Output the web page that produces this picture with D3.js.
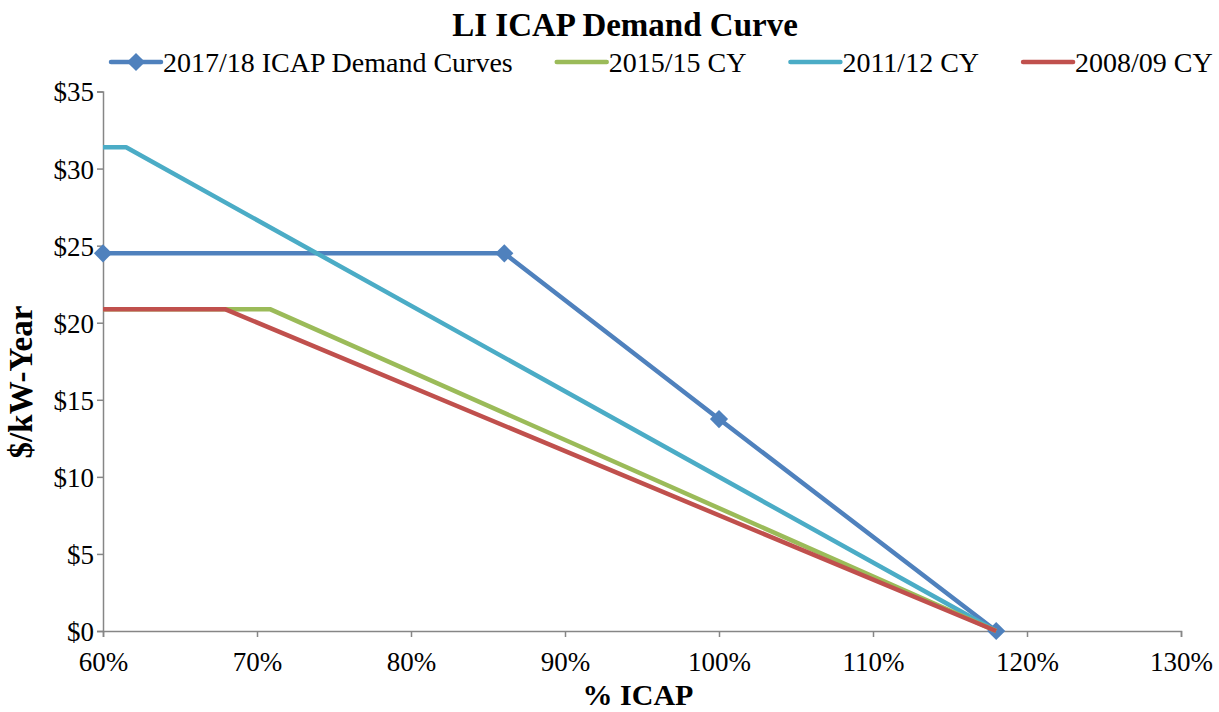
<!DOCTYPE html>
<html>
<head>
<meta charset="utf-8">
<script src="https://cdn.jsdelivr.net/npm/d3@7"></script>
<style>
  body { margin: 0; background: #fff; }
  text { font-family: "Liberation Serif", "Times New Roman", serif; fill: #000; }
</style>
</head>
<body>
<div id="chart"></div>
<script>
// series names, in legend order
var seriesNames = ["2017/18 ICAP Demand Curves", "2015/15 CY", "2011/12 CY", "2008/09 CY"];
var seriesColors = ["#4F81BD", "#9BBB59", "#4BACC6", "#C0504D"];

// % ICAP (x) and $/kW-Year (y) for each curve
var icap1718 = [60, 86.06, 100, 118];
var price1718 = [24.5, 24.5, 13.75, 0];

var icap1515 = [60, 70.84, 118];
var price1515 = [20.88, 20.88, 0];

var icap1112 = [60, 61.5, 118];
var price1112 = [31.38, 31.38, 0];

var icap0809 = [60, 67.92, 118];
var price0809 = [20.88, 20.88, 0];

var xTicks = [60, 70, 80, 90, 100, 110, 120, 130];
var yTicks = [0, 5, 10, 15, 20, 25, 30, 35];

var W = 1219, H = 712;
var margin = { top: 91.5, right: 38, bottom: 81, left: 103 };
var width = W - margin.left - margin.right,
    height = H - margin.top - margin.bottom;

var svg = d3.select("#chart")
    .append("svg")
    .attr("width", W)
    .attr("height", H);

var x = d3.scaleLinear().domain([60, 130]).range([0, width]);
var y = d3.scaleLinear().domain([0, 35]).range([height, 0]);

var g = svg.append("g")
    .attr("transform", "translate(" + margin.left + "," + margin.top + ")");

// axes
var axisColor = "#868686";
var xAxis = g.append("g")
    .attr("transform", "translate(0," + height + ")")
    .call(d3.axisBottom(x).tickValues(xTicks).tickSize(6).tickPadding(15)
        .tickFormat(function (d) { return d + "%"; }));
var yAxis = g.append("g")
    .call(d3.axisLeft(y).tickValues(yTicks).tickSize(6).tickPadding(3)
        .tickFormat(function (d) { return "$" + d; }));

[xAxis, yAxis].forEach(function (a) {
    a.attr("font-family", null).attr("font-size", null);
    a.select(".domain").attr("stroke", axisColor).attr("stroke-width", 1.5);
    a.selectAll(".tick line").attr("stroke", axisColor).attr("stroke-width", 1.5);
    a.selectAll(".tick text")
        .style("font-family", "'Liberation Serif', 'Times New Roman', serif")
        .style("font-size", "27px")
        .attr("fill", "#000");
});
yAxis.selectAll(".tick text").attr("dy", "0.35em");

// lines
var line = d3.line()
    .x(function (d) { return x(d[0]); })
    .y(function (d) { return y(d[1]); });

var series = [
    { name: seriesNames[0], color: seriesColors[0], pts: d3.zip(icap1718, price1718), marker: true },
    { name: seriesNames[1], color: seriesColors[1], pts: d3.zip(icap1515, price1515) },
    { name: seriesNames[2], color: seriesColors[2], pts: d3.zip(icap1112, price1112) },
    { name: seriesNames[3], color: seriesColors[3], pts: d3.zip(icap0809, price0809) }
];

var diamond = d3.symbol().type(d3.symbolDiamond2 || d3.symbolDiamond).size(210);

// draw order: blue first, then cyan, green, red
[0, 2, 1, 3].forEach(function (i) {
    var s = series[i];
    g.append("path")
        .datum(s.pts)
        .attr("d", line)
        .attr("fill", "none")
        .attr("stroke", s.color)
        .attr("stroke-width", 4.5)
        .attr("stroke-linejoin", "round");
    if (s.marker) {
        g.selectAll(".mk")
            .data(s.pts)
            .enter()
            .append("path")
            .attr("d", diamond)
            .attr("transform", function (d) { return "translate(" + x(d[0]) + "," + y(d[1]) + ")"; })
            .attr("fill", s.color);
    }
});

// title
svg.append("text")
    .attr("x", 625)
    .attr("y", 36)
    .attr("text-anchor", "middle")
    .style("font-size", "33px")
    .style("font-weight", "bold")
    .text("LI ICAP Demand Curve");

// axis titles
svg.append("text")
    .attr("x", 638)
    .attr("y", 705)
    .attr("text-anchor", "middle")
    .style("font-size", "30px")
    .style("font-weight", "bold")
    .text("% ICAP");

svg.append("text")
    .attr("transform", "translate(32,382) rotate(-90)")
    .attr("text-anchor", "middle")
    .style("font-size", "33px")
    .style("font-weight", "bold")
    .text("$/kW-Year");

// legend
var legend = svg.append("g");
var lx = 111, ly = 62;
series.forEach(function (s) {
    legend.append("line")
        .attr("x1", lx).attr("x2", lx + 50)
        .attr("y1", ly).attr("y2", ly)
        .attr("stroke", s.color)
        .attr("stroke-width", 4.5)
        .attr("stroke-linecap", "round");
    if (s.marker) {
        legend.append("path")
            .attr("d", diamond)
            .attr("transform", "translate(" + (lx + 25) + "," + ly + ")")
            .attr("fill", s.color);
    }
    var t = legend.append("text")
        .attr("x", lx + 52)
        .attr("y", ly)
        .attr("dy", "0.35em")
        .style("font-size", "28px")
        .text(s.name);
    lx = lx + 52 + t.node().getComputedTextLength() + 44;
});
</script>
</body>
</html>
